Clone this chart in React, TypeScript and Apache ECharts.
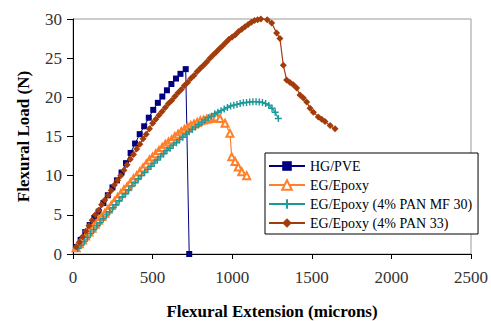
import React, { useEffect, useRef } from "react";
import * as echarts from "echarts";

const xTicks = [0, 500, 1000, 1500, 2000, 2500];
const yTicks = [0, 5, 10, 15, 20, 25, 30];

const hgX = [20, 48, 77, 105, 134, 162, 191, 219, 248, 276, 305, 333, 362, 390, 419, 447, 476, 504, 533, 561, 590, 618, 647, 675, 708, 730];
const hgY = [0.9, 1.8, 2.8, 3.7, 4.6, 5.4, 6.5, 7.5, 8.5, 9.4, 10.4, 11.6, 12.9, 14.1, 15.3, 16.3, 17.4, 18.4, 19.3, 20.1, 20.9, 21.7, 22.4, 23.0, 23.6, 0];

const egX = [20, 40, 60, 80, 100, 120, 140, 160, 180, 200, 220, 240, 260, 280, 300, 320, 340, 360, 380, 400, 420, 440, 460, 480, 500, 520, 540, 560, 580, 600, 620, 640, 660, 680, 700, 720, 740, 760, 780, 800, 820, 840, 860, 880, 900, 923, 955, 986, 997, 1018, 1038, 1060, 1091];
const egY = [0.8, 1.3, 1.8, 2.3, 2.8, 3.3, 3.8, 4.3, 4.8, 5.2, 5.7, 6.2, 6.7, 7.2, 7.7, 8.2, 8.6, 9.1, 9.6, 10.0, 10.5, 11.0, 11.5, 12.0, 12.4, 12.8, 13.2, 13.6, 14.0, 14.3, 14.6, 15.0, 15.3, 15.6, 15.9, 16.2, 16.4, 16.6, 16.8, 17.0, 17.1, 17.2, 17.3, 17.4, 17.5, 17.3, 16.7, 15.4, 12.4, 11.8, 11.1, 10.5, 10.0];

const mfX = [30, 50, 70, 90, 110, 130, 150, 170, 190, 210, 230, 250, 270, 290, 310, 330, 350, 370, 390, 410, 430, 450, 470, 490, 510, 530, 550, 570, 590, 610, 630, 650, 670, 690, 710, 730, 750, 770, 790, 810, 830, 850, 870, 890, 910, 930, 950, 970, 990, 1010, 1030, 1050, 1070, 1090, 1110, 1130, 1150, 1170, 1190, 1210, 1230, 1250, 1270, 1290];
const mfY = [0.7, 1.1, 1.6, 2.1, 2.6, 3.1, 3.6, 4.0, 4.5, 5.0, 5.4, 5.9, 6.3, 6.8, 7.3, 7.7, 8.2, 8.7, 9.1, 9.6, 10.0, 10.4, 10.8, 11.2, 11.6, 12.0, 12.4, 12.8, 13.2, 13.5, 13.9, 14.2, 14.6, 14.9, 15.3, 15.6, 15.9, 16.2, 16.5, 16.8, 17.1, 17.4, 17.6, 17.9, 18.1, 18.3, 18.5, 18.7, 18.9, 19.0, 19.1, 19.2, 19.3, 19.35, 19.4, 19.45, 19.45, 19.4, 19.35, 19.2, 19.0, 18.6, 18.1, 17.3];

const pan33X = [20, 40, 60, 80, 100, 120, 140, 160, 180, 200, 220, 240, 260, 280, 300, 320, 340, 360, 380, 400, 420, 440, 460, 480, 500, 520, 540, 560, 580, 600, 620, 640, 660, 680, 700, 720, 740, 760, 780, 800, 820, 840, 860, 880, 900, 920, 940, 960, 980, 1000, 1020, 1040, 1060, 1080, 1100, 1120, 1140, 1160, 1180, 1195, 1220, 1248, 1279, 1300, 1321, 1342, 1363, 1384, 1405, 1426, 1447, 1468, 1489, 1510, 1541, 1562, 1583, 1615, 1646];
const pan33Y = [0.9, 1.5, 2.2, 2.9, 3.6, 4.3, 5.0, 5.6, 6.3, 6.9, 7.5, 8.1, 8.8, 9.4, 10.0, 10.7, 11.4, 12.1, 12.7, 13.4, 14.0, 14.7, 15.3, 16.0, 16.7, 17.2, 17.7, 18.2, 18.7, 19.2, 19.6, 20.1, 20.6, 21.0, 21.5, 21.9, 22.4, 22.8, 23.3, 23.7, 24.1, 24.5, 25.0, 25.4, 25.8, 26.2, 26.6, 27.0, 27.4, 27.7, 28.0, 28.4, 28.7, 29.0, 29.3, 29.6, 29.8, 29.9, 30.0, 30.1, 29.9, 29.5, 28.2, 27.5, 24.1, 22.2, 21.9, 21.6, 21.2, 20.3, 19.9, 19.4, 18.6, 18.1, 17.5, 17.2, 16.9, 16.4, 16.0];

const seriesNames = ["HG/PVE", "EG/Epoxy", "EG/Epoxy (4% PAN MF 30)", "EG/Epoxy (4% PAN 33)"];

const zip = (xs: number[], ys: number[]) => xs.map((x, i) => [x, ys[i]]);

const FONT = "Liberation Serif, serif";
const PLUS = "path://M4,0H6V4H10V6H6V10H4V6H0V4H4Z";

export default function App() {
  const ref = useRef<HTMLDivElement>(null);
  useEffect(() => {
    if (!ref.current) return;
    const chart = echarts.init(ref.current, null, { renderer: "svg" });
    chart.setOption({
      animation: false,
      backgroundColor: "#ffffff",
      textStyle: { fontFamily: FONT },
      grid: {
        left: 73,
        top: 19,
        width: 398,
        height: 235,
        outerBoundsMode: "none",
        containLabel: false,
        show: true,
        borderColor: "#9a9a9a",
        borderWidth: 1,
        backgroundColor: "transparent",
      },
      legend: {
        orient: "vertical",
        left: 265,
        top: 153,
        itemWidth: 36,
        itemHeight: 12,
        itemGap: 5,
        padding: [6, 6, 4, 3],
        borderColor: "#000",
        borderWidth: 1,
        backgroundColor: "#fff",
        textStyle: { fontFamily: FONT, fontSize: 14, color: "#000" },
        data: seriesNames,
      },
      xAxis: {
        type: "value",
        min: 0,
        max: 2500,
        interval: 500,
        name: "Flexural Extension (microns)",
        nameLocation: "middle",
        nameGap: 49,
        nameTextStyle: { fontFamily: FONT, fontSize: 17, fontWeight: "bold", color: "#000" },
        axisLine: { show: true, lineStyle: { color: "#000", width: 1 } },
        axisTick: { show: true, inside: false, length: 5, lineStyle: { color: "#000" } },
        axisLabel: {
          fontFamily: FONT,
          fontSize: 17,
          color: "#333",
          margin: 15,
          customValues: xTicks,
          formatter: (v: number) => String(v),
        },
        splitLine: { show: false },
      },
      yAxis: {
        type: "value",
        min: 0,
        max: 30,
        interval: 5,
        name: "Flexural Load (N)",
        nameLocation: "middle",
        nameGap: 41,
        nameTextStyle: { fontFamily: FONT, fontSize: 17, fontWeight: "bold", color: "#000" },
        axisLine: { show: true, lineStyle: { color: "#000", width: 1 } },
        axisTick: { show: true, inside: false, length: 6, lineStyle: { color: "#000" } },
        axisLabel: {
          fontFamily: FONT,
          fontSize: 17,
          color: "#333",
          margin: 11,
          customValues: yTicks,
          formatter: (v: number) => String(v),
        },
        splitLine: { show: false },
      },
      series: [
        {
          name: seriesNames[0],
          type: "line",
          data: zip(hgX, hgY),
          symbol: "rect",
          symbolSize: 6,
          color: "#000080",
          lineStyle: { width: 1, color: "#000080" },
          itemStyle: { color: "#000080" },
        },
        {
          name: seriesNames[1],
          type: "line",
          data: zip(egX, egY),
          symbol: "emptyTriangle",
          symbolSize: 7,
          color: "#FF7F2A",
          lineStyle: { width: 1.2, color: "#FF7F2A" },
          itemStyle: { color: "#FF7F2A", borderColor: "#FF7F2A", borderWidth: 1 },
        },
        {
          name: seriesNames[2],
          type: "line",
          data: zip(mfX, mfY),
          symbol: PLUS,
          symbolSize: 7,
          color: "#1C9A9A",
          lineStyle: { width: 1.2, color: "#1C9A9A" },
          itemStyle: { color: "#1C9A9A" },
        },
        {
          name: seriesNames[3],
          type: "line",
          data: zip(pan33X, pan33Y),
          symbol: "diamond",
          symbolSize: 7,
          color: "#A33C0C",
          lineStyle: { width: 1.2, color: "#A33C0C" },
          itemStyle: { color: "#A33C0C" },
        },
      ],
    });
    return () => chart.dispose();
  }, []);
  return (
    <div
      ref={ref}
      style={{ position: "absolute", left: 0, top: 0, width: 491, height: 321 }}
    />
  );
}
